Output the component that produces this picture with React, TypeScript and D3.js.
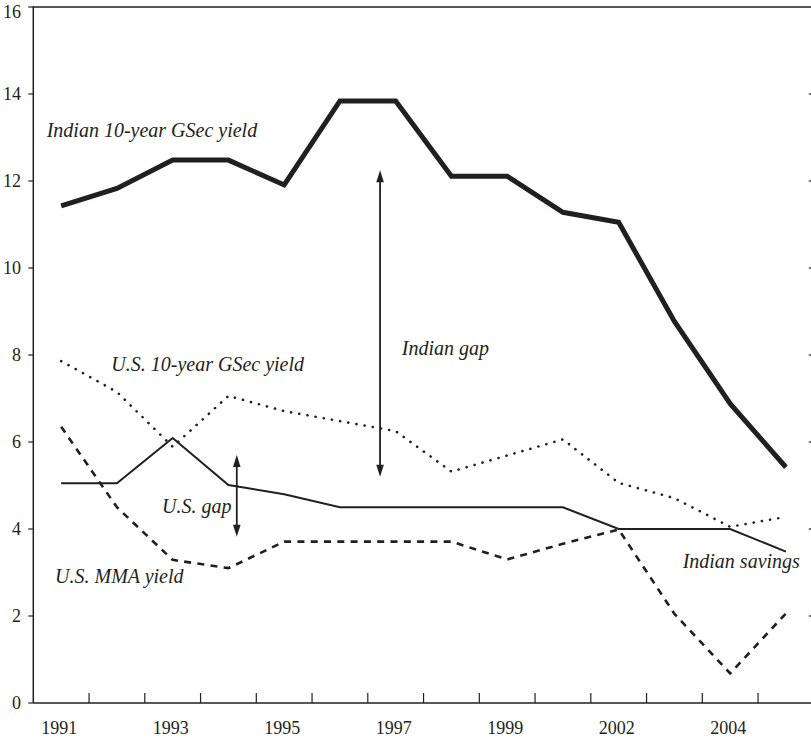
import React from "react";
import * as d3 from "d3";

// categories (one slot per observation; the axis labels every other slot)
const years = ["1991", "1992", "1993", "1994", "1995", "1996", "1997", "1998", "1999", "2000", "2002", "2003", "2004", "2005"];
const tickLabels = ["1991", "1993", "1995", "1997", "1999", "2002", "2004"];
const yTicks = [0, 2, 4, 6, 8, 10, 12, 14, 16];

const indianGsec = [11.43, 11.83, 12.48, 12.48, 11.91, 13.84, 13.84, 12.11, 12.11, 11.28, 11.05, 8.77, 6.88, 5.42];
const indianSavings = [5.05, 5.05, 6.09, 5.01, 4.8, 4.5, 4.5, 4.5, 4.5, 4.5, 4.0, 4.0, 4.0, 3.48];
const usGsec = [7.86, 7.15, 5.89, 7.06, 6.71, 6.48, 6.25, 5.32, 5.69, 6.06, 5.06, 4.71, 4.05, 4.28];
const usMma = [6.35, 4.5, 3.29, 3.1, 3.71, 3.71, 3.71, 3.71, 3.3, 3.66, 3.99, 2.05, 0.68, 2.06];

// annotations, in data units (slot index, value)
const labels = [
  { text: "Indian 10-year GSec yield", i: -0.26, v: 13.02, anchor: "start" },
  { text: "U.S. 10-year GSec yield", i: 0.9, v: 7.63, anchor: "start" },
  { text: "Indian gap", i: 6.11, v: 8.0, anchor: "start" },
  { text: "U.S. gap", i: 1.81, v: 4.36, anchor: "start" },
  { text: "U.S. MMA yield", i: -0.11, v: 2.75, anchor: "start" },
  { text: "Indian savings", i: 13.25, v: 3.1, anchor: "end" },
];
const gapArrows = [
  { i: 5.72, from: 5.2, to: 12.25 },
  { i: 3.15, from: 3.82, to: 5.7 },
];

const W = 811;
const H = 739;
const ink = "#231f20";
const serif = "'Liberation Serif', 'Times New Roman', serif";

export default function App() {
  const x0 = 33.3;
  const x1 = x0 + 14 * 55.75;
  const x = d3.scaleLinear().domain([-0.5, years.length - 0.5]).range([x0, x1]);
  const y = d3.scaleLinear().domain([0, 16]).range([703, 7]);

  const line = d3
    .line<number>()
    .x((d, i) => x(i))
    .y((d) => y(d));

  const series = [
    { data: indianGsec, width: 5, dash: undefined, cap: "butt" },
    { data: indianSavings, width: 2, dash: undefined, cap: "butt" },
    { data: usGsec, width: 2.6, dash: "0.1 8.2", cap: "round" },
    { data: usMma, width: 2.6, dash: "7 6.3", cap: "butt" },
  ];

  const bandTicks = d3.range(0.5, years.length - 1, 1);

  const arrowHead = (px: number, py: number, dir: number) => {
    const len = 12;
    const hw = 3.8;
    return `M${px},${py} L${px - hw},${py + dir * len} L${px + hw},${py + dir * len} Z`;
  };

  return (
    <svg
      width={W}
      height={H}
      style={{ position: "absolute", left: 0, top: 0, background: "#fff" }}
      fontFamily={serif}
    >
      {/* frame */}
      <line x1={x0} x2={x1} y1={y(16)} y2={y(16)} stroke={ink} strokeWidth={1.4} />
      <line x1={x1} x2={x1} y1={y(16)} y2={y(0)} stroke={ink} strokeWidth={1.4} />
      <line x1={x0} x2={x0} y1={y(16) - 0.7} y2={y(0)} stroke={ink} strokeWidth={1.5} />
      <line x1={x0} x2={x1} y1={y(0)} y2={y(0)} stroke={ink} strokeWidth={1.5} />

      {/* y ticks */}
      {yTicks.map((t) => (
        <g key={"y" + t}>
          <line x1={x0 - 5} x2={x0} y1={y(t)} y2={y(t)} stroke={ink} strokeWidth={1.2} />
          {t > 0 && t < 16 && (
            <line x1={x1 - 5} x2={x1} y1={y(t)} y2={y(t)} stroke={ink} strokeWidth={1.2} />
          )}
          <text x={21} y={Math.max(y(t), 12)} dy="0.35em" textAnchor="end" fontSize={18} fill={ink}>
            {t}
          </text>
        </g>
      ))}

      {/* x ticks between slots */}
      {bandTicks.map((t) => (
        <line key={"x" + t} x1={x(t)} x2={x(t)} y1={y(0)} y2={y(0) - 10} stroke={ink} strokeWidth={1.2} />
      ))}
      {years.map((yr, i) =>
        tickLabels.includes(yr) ? (
          <text key={yr} x={x(i) - 2} y={734} textAnchor="middle" fontSize={18} fill={ink}>
            {yr}
          </text>
        ) : null
      )}

      {/* series */}
      {series.map((s, k) => (
        <path
          key={k}
          d={line(s.data) || ""}
          fill="none"
          stroke={ink}
          strokeWidth={s.width}
          strokeDasharray={s.dash}
          strokeLinecap={s.cap as any}
          strokeLinejoin="miter"
        />
      ))}

      {/* gap arrows */}
      {gapArrows.map((a, k) => (
        <g key={"a" + k}>
          <line x1={x(a.i)} x2={x(a.i)} y1={y(a.to) + 8} y2={y(a.from) - 8} stroke={ink} strokeWidth={1.8} />
          <path d={arrowHead(x(a.i), y(a.to), 1)} fill={ink} />
          <path d={arrowHead(x(a.i), y(a.from), -1)} fill={ink} />
        </g>
      ))}

      {/* labels */}
      {labels.map((l) => (
        <text
          key={l.text}
          x={x(l.i)}
          y={y(l.v)}
          textAnchor={l.anchor as any}
          fontSize={20}
          fontStyle="italic"
          fill={ink}
        >
          {l.text}
        </text>
      ))}
    </svg>
  );
}
